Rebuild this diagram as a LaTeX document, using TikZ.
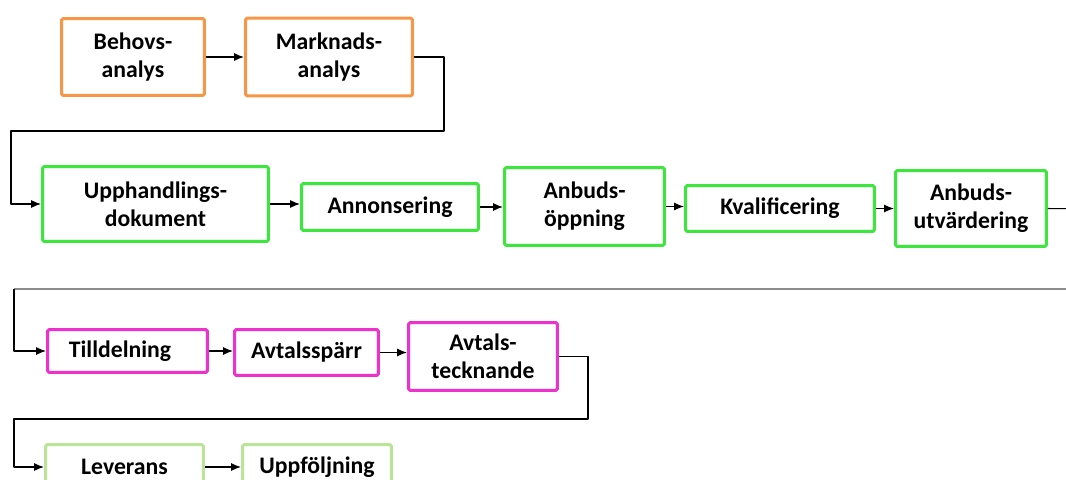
\documentclass[tikz,border=0pt]{standalone}
\usepackage{fontspec}
\setmainfont{Carlito}
\usetikzlibrary{arrows.meta}
\definecolor{phaseplan}{HTML}{F79646}
\definecolor{phaseproc}{HTML}{3DE63D}
\definecolor{phaseaward}{HTML}{EE30CC}
\definecolor{phasedeliv}{HTML}{BCE496}
\definecolor{wrapline}{HTML}{8C8C8C}

\begin{document}
\begin{tikzpicture}[
  x=0.02cm,
  y=-0.02cm,
  line join=round,
  stage/.style={draw,line width=0.06cm,rounded corners=1pt,fill=white,
    align=center,inner sep=0pt,font=\fontsize{13.5}{16}\selectfont\bfseries},
  plan/.style={stage,draw=phaseplan},
  proc/.style={stage,draw=phaseproc},
  award/.style={stage,draw=phaseaward},
  deliv/.style={stage,draw=phasedeliv},
  link/.style={draw=black,line width=0.6pt,-{Latex[length=0.2cm,width=0.16cm]}},
  wrap/.style={draw=wrapline,line width=0.04cm}
]
  \useasboundingbox (0,0) rectangle (1066,480);
  \clip (0,0) rectangle (1066,480);

  % Planning phase
  \node[plan,minimum width=2.86cm,minimum height=1.54cm] (behov) at (133,57) {Behovs-\\analys};
  \node[plan,minimum width=3.34cm,minimum height=1.56cm] (marknad) at (329,57) {Marknads-\\analys};

  % Procurement phase
  \node[proc,minimum width=4.52cm,minimum height=1.50cm] (upph) at (155.5,204) {Upphandlings-\\dokument};
  \node[proc,minimum width=3.54cm,minimum height=0.94cm] (annons) at (390,207) {Annonsering};
  \node[proc,minimum width=3.20cm,minimum height=1.56cm] (oppning) at (584.5,206.5) {Anbuds-\\öppning};
  \node[proc,minimum width=3.78cm,minimum height=0.92cm] (kval) at (780,208.5) {Kvalificering};
  \node[proc,minimum width=3.02cm,minimum height=1.52cm] (utvard) at (971,208.5) {Anbuds-\\utvärdering};

  % Award phase
  \node[award,minimum width=3.20cm,minimum height=0.86cm] (tilldel) at (127.5,351) {Tilldelning\hspace{0.3cm}};
  \node[award,minimum width=2.88cm,minimum height=0.92cm] (sparr) at (306.5,352.5) {Avtalsspärr};
  \node[award,minimum width=2.98cm,minimum height=1.36cm] (teckn) at (483,356.5) {Avtals-\\tecknande};

  % Delivery phase (runs past the lower edge)
  \node[deliv,minimum width=3.16cm,minimum height=0.90cm] (lever) at (124.5,467) {Leverans};
  \node[deliv,minimum width=2.98cm,minimum height=0.90cm] (uppfolj) at (317,467) {Uppföljning};

  % Loose ends beyond the right edge
  \coordinate (exitR) at (1090,209);
  \coordinate (entryR) at (1090,289);

  % Connectors
  \draw[link] (behov.east) -- (behov.east -| marknad.west);
  \draw[link] (marknad.east) -- ++(30,0) |- (11,131) |- (upph.west);
  \draw[link] (upph.east) -- (upph.east -| annons.west);
  \draw[link] (annons.east) -- (annons.east -| oppning.west);
  \draw[link] (oppning.east) -- (oppning.east -| kval.west);
  \draw[link] (kval.east) -- (kval.east -| utvard.west);
  \draw[line width=0.6pt] (utvard.east) -- (exitR);
  \draw[wrap] (entryR) -- (14,289);
  \draw[link] (14,289) |- (tilldel.west);
  \draw[link] (tilldel.east) -- (tilldel.east -| sparr.west);
  \draw[link] (sparr.east) -- (sparr.east -| teckn.west);
  \draw[link] (teckn.east) -- ++(29,0) |- (14,419) |- (lever.west);
  \draw[link] (lever.east) -- (lever.east -| uppfolj.west);
\end{tikzpicture}
\end{document}
